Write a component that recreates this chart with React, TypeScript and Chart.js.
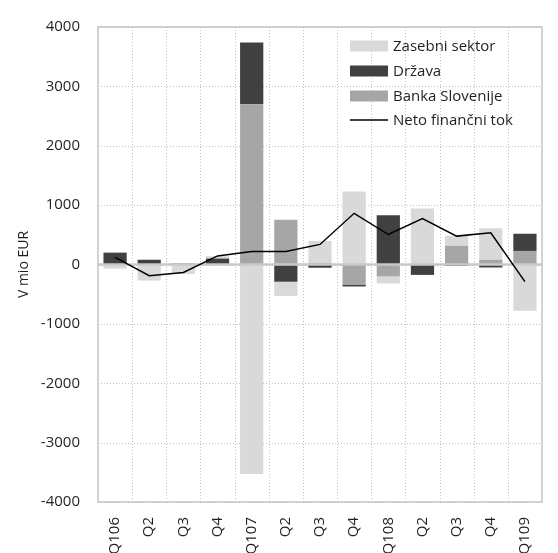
import React, { useEffect, useRef } from "react";
import { Chart, registerables } from "chart.js";

Chart.register(...registerables);

const categories = ["Q106", "Q2", "Q3", "Q4", "Q107", "Q2", "Q3", "Q4", "Q108", "Q2", "Q3", "Q4", "Q109"];
const zasebniSektor = [-70, -270, -160, 40, -3530, -240, 370, 1230, -120, 945, 170, 530, -780];
const drzava = [200, 80, 0, 100, 1040, -290, -55, -25, 830, -175, -25, -50, 290];
const bankaSlovenije = [0, 0, 25, 0, 2700, 755, 25, -345, -200, 0, 315, 80, 228];
const netoFinancniTok = [120, -190, -135, 145, 220, 220, 338, 862, 505, 772, 478, 533, -288];

const yMin = -4000;
const yMax = 4000;
const yStep = 1000;

const FONT = "'Open Sans', 'DejaVu Sans', sans-serif";
const TEXT = "#231f20";
const C_LIGHT = "#d9d9d9";
const C_DARK = "#404040";
const C_MID = "#a6a6a6";

const legendItems = [
  { label: "Zasebni sektor", color: C_LIGHT, type: "box" },
  { label: "Država", color: C_DARK, type: "box" },
  { label: "Banka Slovenije", color: C_MID, type: "box" },
  { label: "Neto finančni tok", color: "#000000", type: "line" },
];

const framePlugin = {
  id: "frameAndLegend",
  beforeDatasetsDraw(chart: any) {
    const { ctx, chartArea } = chart;
    const xs = chart.scales.x;
    const ys = chart.scales.y;
    ctx.save();
    ctx.strokeStyle = "#c0c0c0";
    ctx.lineWidth = 1;
    ctx.setLineDash([1, 2]);
    ys.ticks.forEach((t: any) => {
      const y = Math.round(ys.getPixelForValue(t.value)) + 0.5;
      ctx.beginPath();
      ctx.moveTo(chartArea.left, y);
      ctx.lineTo(chartArea.right, y);
      ctx.stroke();
    });
    for (let i = 1; i < categories.length; i++) {
      const x = Math.round((xs.getPixelForValue(i - 1) + xs.getPixelForValue(i)) / 2) + 0.5;
      ctx.beginPath();
      ctx.moveTo(x, chartArea.top);
      ctx.lineTo(x, chartArea.bottom);
      ctx.stroke();
    }
    ctx.restore();
  },
  beforeDatasetDraw(chart: any, args: any) {
    if (args.index !== 3) return;
    const { ctx, chartArea } = chart;
    const y0 = chart.scales.y.getPixelForValue(0);
    ctx.save();
    ctx.strokeStyle = "#c8c8c8";
    ctx.lineWidth = 2.5;
    ctx.beginPath();
    ctx.moveTo(chartArea.left, y0);
    ctx.lineTo(chartArea.right, y0);
    ctx.stroke();
    ctx.restore();
  },
  afterDraw(chart: any) {
    const { ctx, chartArea } = chart;
    ctx.save();
    ctx.strokeStyle = "#c4c4c4";
    ctx.lineWidth = 1.5;
    ctx.strokeRect(chartArea.left, chartArea.top, chartArea.right - chartArea.left, chartArea.bottom - chartArea.top);
    // legend
    const bx = 350;
    const bw = 38;
    const rows = [46, 71, 96, 120];
    ctx.font = `15px ${FONT}`;
    ctx.textBaseline = "middle";
    ctx.textAlign = "left";
    legendItems.forEach((it, i) => {
      const y = rows[i];
      if (it.type === "box") {
        ctx.fillStyle = it.color;
        ctx.fillRect(bx, y - 5.5, bw, 11);
      } else {
        ctx.strokeStyle = it.color;
        ctx.lineWidth = 1.5;
        ctx.beginPath();
        ctx.moveTo(bx, y);
        ctx.lineTo(bx + bw, y);
        ctx.stroke();
      }
      ctx.fillStyle = TEXT;
      ctx.fillText(it.label, bx + bw + 5, y + 1);
    });
    ctx.restore();
  },
};

export default function App() {
  const canvasRef = useRef<HTMLCanvasElement | null>(null);

  useEffect(() => {
    const canvas = canvasRef.current;
    if (!canvas) return;
    const chart = new Chart(canvas, {
      type: "bar",
      data: {
        labels: categories,
        datasets: [
          {
            label: "Banka Slovenije",
            data: bankaSlovenije,
            backgroundColor: C_MID,
            stack: "bars",
            barPercentage: 0.68,
            categoryPercentage: 1,
          },
          {
            label: "Država",
            data: drzava,
            backgroundColor: C_DARK,
            stack: "bars",
            barPercentage: 0.68,
            categoryPercentage: 1,
          },
          {
            label: "Zasebni sektor",
            data: zasebniSektor,
            backgroundColor: C_LIGHT,
            stack: "bars",
            barPercentage: 0.68,
            categoryPercentage: 1,
          },
          {
            type: "line",
            label: "Neto finančni tok",
            data: netoFinancniTok,
            borderColor: "#000000",
            borderWidth: 1.5,
            pointRadius: 0,
            tension: 0,
            stack: "line",
            order: -1,
          } as any,
        ],
      },
      options: {
        responsive: false,
        animation: false,
        layout: { padding: { top: 22, right: 2, left: 0, bottom: 0 } },
        plugins: {
          legend: { display: false },
          tooltip: { enabled: false },
        },
        scales: {
          x: {
            stacked: true,
            grid: { display: false, offset: true, drawTicks: false } as any,
            border: { display: false },
            ticks: {
              autoSkip: false,
              minRotation: 90,
              maxRotation: 90,
              padding: 15,
              color: TEXT,
              font: { family: FONT, size: 15 },
            },
            afterFit: (scale: any) => {
              scale.height = 51;
            },
          },
          y: {
            stacked: true,
            min: yMin,
            max: yMax,
            grid: { display: false, drawTicks: false },
            border: { display: false },
            ticks: {
              stepSize: yStep,
              padding: 18,
              color: TEXT,
              font: { family: FONT, size: 15 },
              callback: (v: any) => String(v),
            },
            title: {
              display: true,
              text: "V mio EUR",
              color: TEXT,
              font: { family: FONT, size: 14 },
              padding: { top: 16, bottom: 0 },
            },
            afterFit: (scale: any) => {
              scale.width = 98;
            },
          },
        },
      },
      plugins: [framePlugin],
    });
    return () => chart.destroy();
  }, []);

  return (
    <div style={{ position: "fixed", left: 0, top: 0, width: 558, height: 553, background: "#fff" }}>
      <canvas ref={canvasRef} width={558} height={553} style={{ display: "block" }} />
    </div>
  );
}
